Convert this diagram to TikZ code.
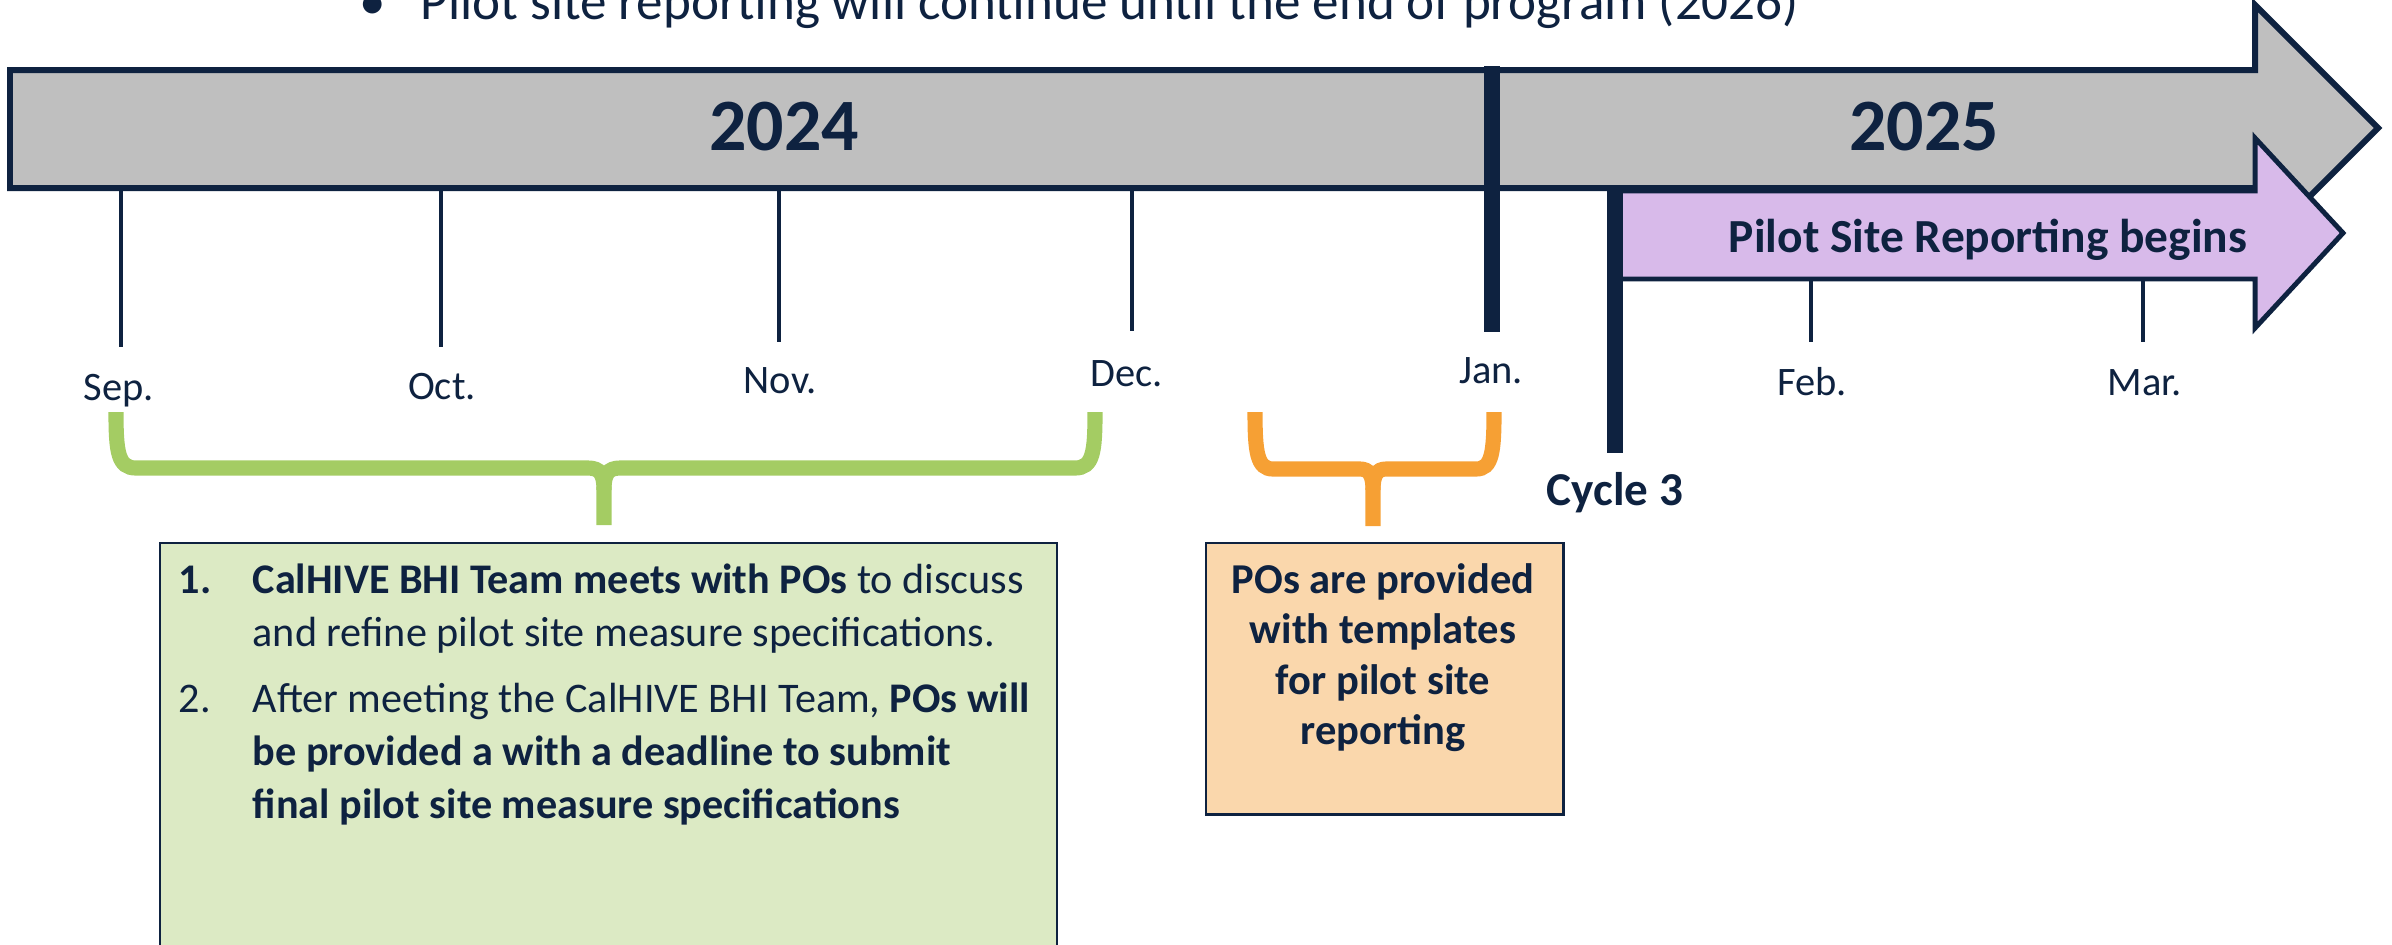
\documentclass[tikz,border=0pt]{standalone}
\usepackage{fontspec}
\setmainfont{Carlito}
\usepackage{array}
\pgfdeclarelayer{bg}
\pgfsetlayers{bg,main}
\definecolor{navy}{RGB}{14,34,64}
\definecolor{bargray}{RGB}{191,191,191}
\definecolor{lilac}{RGB}{216,186,234}
\definecolor{leaf}{RGB}{164,204,99}
\definecolor{leaffill}{RGB}{220,234,196}
\definecolor{amber}{RGB}{246,160,52}
\definecolor{amberfill}{RGB}{250,215,172}
\tikzset{
        monthlabel/.style={font=\fontsize{11.5}{14}\selectfont, text=navy, anchor=base, inner sep=0pt},
        yearlabel/.style={font=\fontsize{21}{25}\selectfont\bfseries, text=navy, anchor=base, inner sep=0pt},
        monthtick/.style={draw=navy, line width=1pt},
        divider/.style={draw=navy, line width=4.5pt},
        timebar/.style={draw=navy, fill=bargray, line width=1.7pt},
        pilotbar/.style={draw=navy, fill=lilac, line width=1.4pt},
        curly/.style={line width=4.3pt},
        notebox/.style={draw=navy, line width=0.7pt, inner sep=0pt, anchor=north west},
        boxtext/.style={font=\fontsize{12}{15.1}\selectfont, text=navy, inner sep=0pt, anchor=base west},
}

\begin{document}
\begin{tikzpicture}[x=0.01cm, y=-0.01cm]
        \useasboundingbox (0,0) rectangle (2392,944);
        % heading line, cut off at the top
        \node (dot) [font=\fontsize{15.1}{17}\selectfont, text=navy, anchor=base, inner sep=0pt] at (373,19) {•};
        \node (note) [font=\fontsize{15.1}{17}\selectfont, text=navy, anchor=base west, inner sep=0pt] at (420,19) {Pilot site reporting will continue until the end of program (2026)};
        \begin{pgfonlayer}{bg}
                \draw[timebar] (10,70) -- (2255,70) -- (2255,5) -- (2378,128) -- (2255,251) -- (2255,188) -- (10,188) -- cycle;
                \draw[pilotbar] (1615,191) -- (2255,191) -- (2255,138) -- (2343,233) -- (2255,328) -- (2255,279) -- (1615,279) -- cycle;
                \node (steps) [notebox, fill=leaffill, minimum width=8.96cm, minimum height=4.5cm] at (159,542) {};
                \node (handoff) [notebox, fill=amberfill, minimum width=3.57cm, minimum height=2.71cm] at (1205,542) {};
        \end{pgfonlayer}
        \node (y2024) [yearlabel] at (784,150) {2024};
        \node (y2025) [yearlabel] at (1924,150) {2025};
        \node (pilot) [font=\fontsize{13.5}{16}\selectfont\bfseries, text=navy, anchor=base, inner sep=0pt] at (1988,252) {Pilot Site Reporting begins};
        % months
        \node (sep) [monthlabel] at (119,400) {Sep.};
        \node (oct) [monthlabel] at (442,399) {Oct.};
        \node (nov) [monthlabel] at (780,393) {Nov.};
        \node (dec) [monthlabel] at (1127,386) {Dec.};
        \node (jan) [monthlabel] at (1491,383) {Jan.};
        \node (feb) [monthlabel] at (1812,395) {Feb.};
        \node (mar) [monthlabel] at (2145,395) {Mar.};
        \coordinate (sep top) at (121,188);
        \coordinate (sep end) at (121,347);
        \coordinate (oct top) at (441,188);
        \coordinate (oct end) at (441,347);
        \coordinate (nov top) at (779,188);
        \coordinate (nov end) at (779,342);
        \coordinate (dec top) at (1132,188);
        \coordinate (dec end) at (1132,331);
        \coordinate (feb top) at (1811,279);
        \coordinate (feb end) at (1811,342);
        \coordinate (mar top) at (2143,279);
        \coordinate (mar end) at (2143,342);
        \draw[monthtick] (sep top) -- (sep end);
        \draw[monthtick] (oct top) -- (oct end);
        \draw[monthtick] (nov top) -- (nov end);
        \draw[monthtick] (dec top) -- (dec end);
        \draw[monthtick] (feb top) -- (feb end);
        \draw[monthtick] (mar top) -- (mar end);
        % year change and cycle start
        \coordinate (jan top) at (1492,66);
        \coordinate (jan end) at (1492,332);
        \draw[divider] (jan top) -- (jan end);
        \node (cycle) [font=\fontsize{13.4}{16}\selectfont\bfseries, text=navy, anchor=base, inner sep=0pt] at (1615,505) {Cycle 3};
        \coordinate (cycle top) at (1615,191);
        \coordinate (cycle end) at (1615,453);
        \draw[divider] (cycle top) -- (cycle end);
        % braces
        \draw[curly, leaf] (116,412) .. controls (116,452) and (118,468) .. (136,468) -- (588,468) .. controls (600,468) and (604,474) .. (604,490) -- (604,525);
        \draw[curly, leaf] (1095,412) .. controls (1095,452) and (1093,468) .. (1075,468) -- (620,468) .. controls (608,468) and (604,474) .. (604,490);
        \draw[curly, amber] (1255,412) .. controls (1255,452) and (1257,469) .. (1273,469) -- (1360,469) .. controls (1369,469) and (1373,475) .. (1373,490) -- (1373,526);
        \draw[curly, amber] (1494,412) .. controls (1494,452) and (1492,469) .. (1476,469) -- (1386,469) .. controls (1377,469) and (1373,475) .. (1373,490);
        % box texts
        \node (stepstext) [boxtext] at (178,593) {\begin{tabular}[t]{@{}p{0.74cm}@{}l@{}}
                \textbf{1.} & \textbf{CalHIVE BHI Team meets with POs} to discuss\\
                & and refine pilot site measure specifications.\\[3.7pt]
                2. & After meeting the CalHIVE BHI Team, \textbf{POs will}\\
                & \textbf{be provided a with a deadline to submit}\\
                & \textbf{final pilot site measure specifications}
        \end{tabular}};
        \node (handofftext) [boxtext, font=\fontsize{12.1}{14.4}\selectfont, anchor=base] at (1383,593) {\bfseries\begin{tabular}[t]{@{}c@{}}
                POs are provided\\
                with templates\\
                for pilot site\\
                reporting
        \end{tabular}};
\end{tikzpicture}
\end{document}
